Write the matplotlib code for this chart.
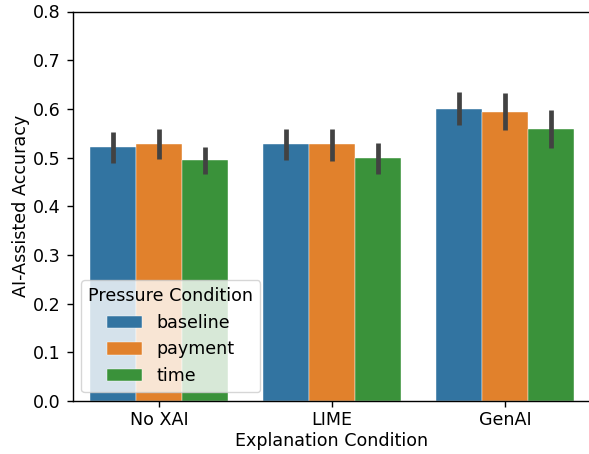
import numpy as np
import matplotlib
matplotlib.use('Agg')
import matplotlib.pyplot as plt

# mean accuracy per explanation / pressure condition, with 95% CI bounds
explanations = ['No XAI', 'LIME', 'GenAI']
pressures = ['baseline', 'payment', 'time']
colors = ['#3274a1', '#e1812c', '#3a923a']

baseline = [0.521, 0.527, 0.600]
payment = [0.528, 0.527, 0.594]
time_ = [0.495, 0.499, 0.559]

baseline_lo = [0.489, 0.494, 0.566]
baseline_hi = [0.553, 0.559, 0.635]
payment_lo = [0.497, 0.493, 0.556]
payment_hi = [0.559, 0.559, 0.633]
time_lo = [0.467, 0.467, 0.519]
time_hi = [0.522, 0.530, 0.598]

means = [baseline, payment, time_]
lows = [baseline_lo, payment_lo, time_lo]
highs = [baseline_hi, payment_hi, time_hi]

s = 1.26  # everything drawn a bit larger than default
plt.rcParams.update({
    'font.size': 10 * s,
    'axes.linewidth': 0.8 * s,
    'xtick.major.width': 0.8 * s,
    'ytick.major.width': 0.8 * s,
    'xtick.major.size': 3.5 * s,
    'ytick.major.size': 3.5 * s,
    'xtick.major.pad': 2.5,
    'ytick.major.pad': 3.5 * s,
})

fig = plt.figure(figsize=(5.89, 4.54), dpi=100)
ax = fig.add_axes([72.5 / 589, 1 - 401 / 454, 519 / 589, 389.5 / 454])

x = np.arange(len(explanations))
w = 0.8 / len(pressures)
for i, name in enumerate(pressures):
    pos = x - 0.4 + w * (i + 0.5)
    m = np.array(means[i])
    ax.bar(pos, m, width=w, color=colors[i], label=name,
           edgecolor='white', linewidth=0.3)
    err = [m - np.array(lows[i]), np.array(highs[i]) - m]
    ax.errorbar(pos, m, yerr=err, fmt='none', ecolor='#424242',
                elinewidth=2.7 * s, capsize=0)

ax.set_xlim(-0.5, 2.5)
ax.set_ylim(0, 0.8)
ax.set_xticks(x)
ax.set_xticklabels(explanations)
ax.set_xlabel('Explanation Condition', labelpad=2.5)
ax.set_ylabel('AI-Assisted Accuracy', labelpad=2)
ax.legend(title='Pressure Condition', loc='lower left')

fig.savefig('out.png', dpi=100)
